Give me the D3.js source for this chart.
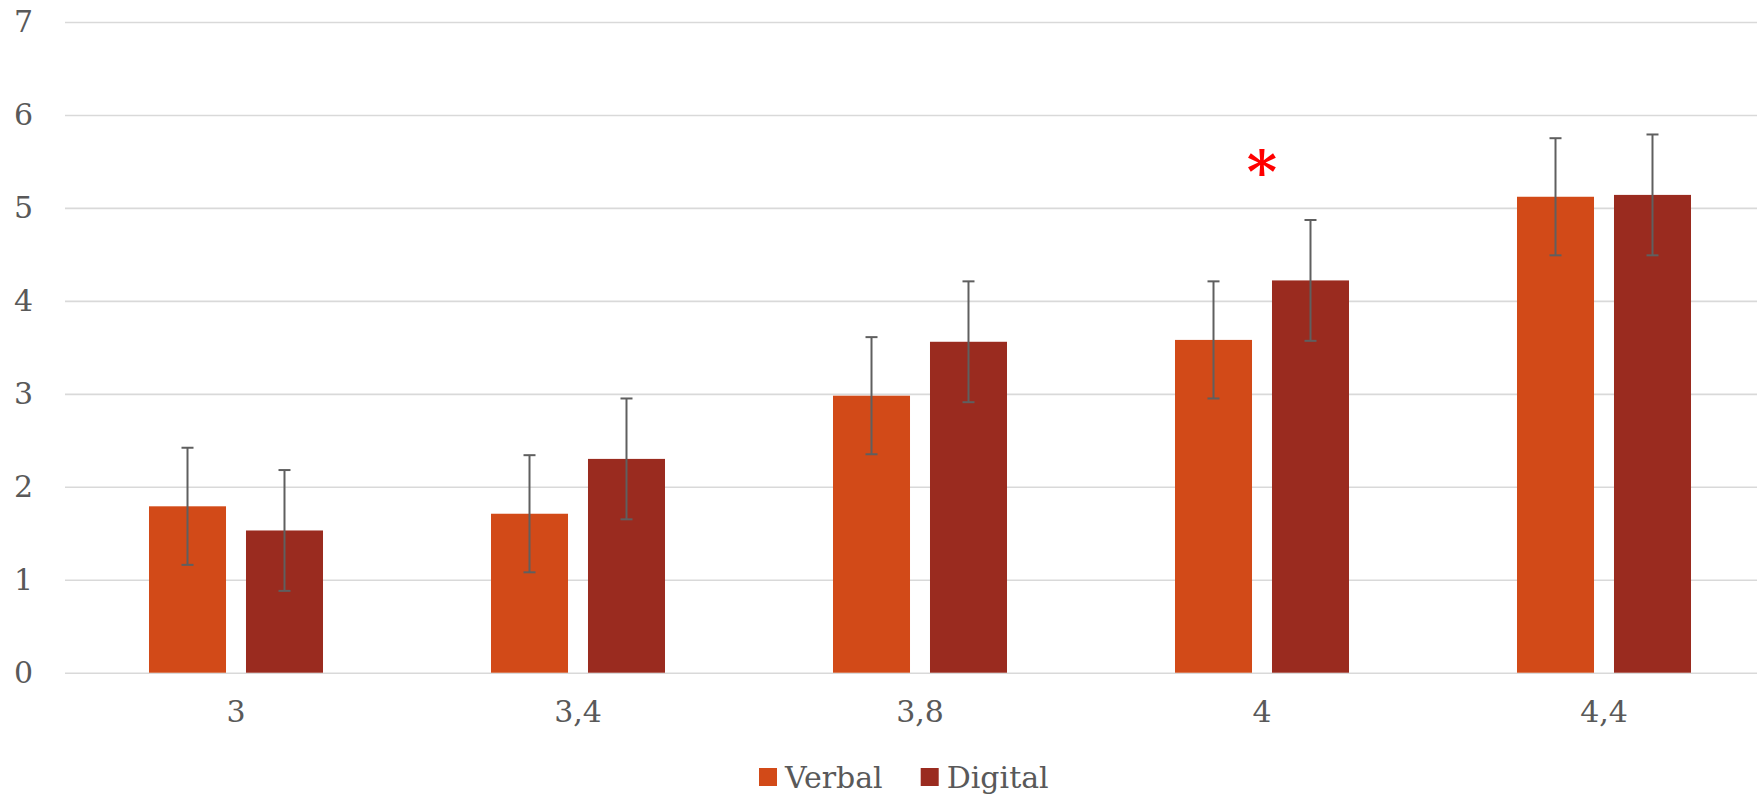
<!DOCTYPE html>
<html>
<head>
  <meta charset="utf-8" />
  <title>Verbal vs Digital</title>
  <script src="https://d3js.org/d3.v7.min.js"></script>
  <style>
    body { margin: 0; background: #fff; }
    text { font-family: "DejaVu Serif", serif; fill: #595959; }
  </style>
</head>
<body>
  <script>
    // data
    const categories = ["3", "3,4", "3,8", "4", "4,4"];
    const series = ["Verbal", "Digital"];
    const verbal = [1.79, 1.71, 2.98, 3.58, 5.12];
    const digital = [1.53, 2.30, 3.56, 4.22, 5.14];
    const verbalErr = [0.63, 0.63, 0.63, 0.63, 0.63];
    const digitalErr = [0.65, 0.65, 0.65, 0.65, 0.65];
    const yTicks = [0, 1, 2, 3, 4, 5, 6, 7];
    // significance marker: category and height
    const marks = [{ cat: "4", y: 5.45, label: "*" }];

    const colors = { Verbal: "#d24a18", Digital: "#9a2b1f" };

    const width = 1757;
    const height = 796;

    let svg = d3.select("body")
      .append("svg")
      .attr("width", width)
      .attr("height", height);

    // table for the bars
    let rows = [];
    categories.forEach((c, i) => {
      rows.push({ cat: c, s: "Verbal", v: verbal[i], e: verbalErr[i] });
      rows.push({ cat: c, s: "Digital", v: digital[i], e: digitalErr[i] });
    });

    let x0 = d3.scaleBand()
      .domain(categories)
      .range([65, 1775]);
    let x1 = d3.scaleBand()
      .domain(series)
      .range([0, x0.bandwidth()])
      .paddingInner(0.206)
      .paddingOuter(0.866);
    let y = d3.scaleLinear()
      .domain([0, 7])
      .range([672.7, 22]);

    // gridlines + y labels
    let axisY = d3.axisLeft(y)
      .tickValues(yTicks)
      .tickSize(-(width - 65))
      .tickPadding(32)
      .tickFormat(d3.format("d"));
    let gy = svg.append("g")
      .attr("transform", "translate(65,0)")
      .call(axisY);
    gy.select(".domain").remove();
    gy.selectAll("line").attr("stroke", "#d9d9d9").attr("stroke-width", 1.6);
    gy.selectAll("text")
      .style("font-size", "30px")
      .style("font-family", "DejaVu Serif, serif")
      .attr("fill", "#595959");

    // x labels
    let axisX = d3.axisBottom(x0).tickSize(0).tickPadding(28);
    let gx = svg.append("g")
      .attr("transform", `translate(0,${y(0)})`)
      .call(axisX);
    gx.select(".domain").remove();
    gx.selectAll("text")
      .style("font-size", "30px")
      .style("font-family", "DejaVu Serif, serif")
      .attr("fill", "#595959");

    // bars
    svg.selectAll("rect.bar")
      .data(rows)
      .enter()
      .append("rect")
      .attr("class", "bar")
      .attr("x", d => x0(d.cat) + x1(d.s))
      .attr("y", d => y(d.v))
      .attr("width", x1.bandwidth())
      .attr("height", d => y(0) - y(d.v))
      .attr("fill", d => colors[d.s]);

    // error bars
    let capW = 12;
    let eb = svg.selectAll("g.err")
      .data(rows)
      .enter()
      .append("g")
      .attr("class", "err")
      .attr("stroke", "#5f5f5f")
      .attr("stroke-width", 2);
    eb.append("line")
      .attr("x1", d => x0(d.cat) + x1(d.s) + x1.bandwidth() / 2)
      .attr("x2", d => x0(d.cat) + x1(d.s) + x1.bandwidth() / 2)
      .attr("y1", d => y(d.v + d.e))
      .attr("y2", d => y(d.v - d.e));
    eb.append("line")
      .attr("x1", d => x0(d.cat) + x1(d.s) + x1.bandwidth() / 2 - capW / 2)
      .attr("x2", d => x0(d.cat) + x1(d.s) + x1.bandwidth() / 2 + capW / 2)
      .attr("y1", d => y(d.v + d.e))
      .attr("y2", d => y(d.v + d.e));
    eb.append("line")
      .attr("x1", d => x0(d.cat) + x1(d.s) + x1.bandwidth() / 2 - capW / 2)
      .attr("x2", d => x0(d.cat) + x1(d.s) + x1.bandwidth() / 2 + capW / 2)
      .attr("y1", d => y(d.v - d.e))
      .attr("y2", d => y(d.v - d.e));

    // asterisk
    svg.selectAll("text.mark")
      .data(marks)
      .enter()
      .append("text")
      .attr("class", "mark")
      .attr("x", d => x0(d.cat) + x0.bandwidth() / 2)
      .attr("y", d => y(d.y))
      .attr("dy", "0.44em")
      .attr("text-anchor", "middle")
      .style("font-size", "58px")
      .style("font-weight", "bold")
      .style("fill", "red")
      .text(d => d.label);

    // legend
    let legend = svg.append("g");
    let lx = 759;
    series.forEach(s => {
      let item = legend.append("g").attr("transform", `translate(${lx},768)`);
      item.append("rect").attr("width", 18).attr("height", 18).attr("fill", colors[s]);
      let t = item.append("text")
        .attr("x", 26)
        .attr("y", 20)
        .style("font-size", "30px")
        .text(s);
      lx += 26 + t.node().getComputedTextLength() + 38;
    });
  </script>
</body>
</html>
